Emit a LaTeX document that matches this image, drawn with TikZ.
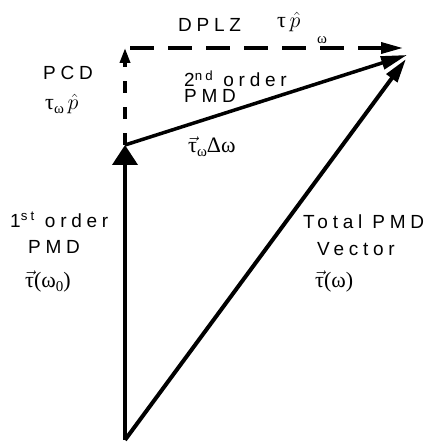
\RequirePackage{fix-cm}
\documentclass[tikz,border=0pt]{standalone}
\usepackage{fontspec}
\setmainfont{Liberation Sans}[LetterSpace=25]
\newfontfamily\grk{Liberation Serif}
\usetikzlibrary{arrows.meta}
\newcommand{\sub}[1]{\raisebox{-4pt}{\fontsize{15}{16}\selectfont\grk #1}}
\begin{document}
\begin{tikzpicture}[x=1pt,y=-1pt,
  lbl/.style={inner sep=0pt,anchor=base west,text height=13pt,text depth=0pt,font=\fontsize{19}{21}\selectfont},
  gr/.style={inner sep=0pt,anchor=base west,font=\fontsize{22}{24}\selectfont\grk},
  vec/.style={line width=4pt},
  dsh/.style={line width=3.5pt,dash pattern=on 24pt off 14pt}]
\useasboundingbox (0,0) rectangle (425,446);
\coordinate (O) at (125,440);
\coordinate (A) at (125,145);
\coordinate (P) at (125,48);
\coordinate (H) at (130,48);
\coordinate (D) at (403,48);
\coordinate (T2) at (407,55);
\coordinate (T) at (406,59);
% vectors
\draw[vec,-{Triangle[width=25pt,length=20pt]}] (O) -- (A);
\draw[line width=3.5pt,dash pattern=on 12pt off 14pt,-{Triangle[width=10pt,length=15pt]}] (A) -- (P);
\draw[dsh,-{Triangle[width=11pt,length=22pt]}] (H) -- (D);
\draw[line width=3.5pt,-{Triangle[width=13pt,length=26pt]}] (A) -- (T2);
\draw[vec,-{Triangle[width=13pt,length=24pt]}] (O) -- (T);
% labels
\node[lbl] (dplz) at (178,32) {DPLZ};
\node[gr] (tp) at (277,28) {τ\,$\hat{p}$};
\node[gr,font=\fontsize{15}{16}\selectfont\grk] (w) at (317,44) {ω};
\node[lbl] (pcd) at (43,80) {PCD};
\node[gr] (twp) at (45,110) {τ\sub{ω}\,$\hat{p}$};
\node[lbl] (so) at (184,87) {2\textsuperscript{nd} order};
\node[lbl] (spmd) at (184,103) {PMD};
\node[gr] (twd) at (188,153) {$\vec{\hbox{τ}}$\sub{ω}Δω};
\node[lbl] (fo) at (10,227) {1\textsuperscript{st} order};
\node[lbl] (fpmd) at (28,253) {PMD};
\node[gr] (tw0) at (25,287) {$\vec{\hbox{τ}}$(ω\sub{0})};
\node[lbl] (tot) at (303,228) {Total PMD};
\node[lbl] (vct) at (317,255) {Vector};
\node[gr] (tw) at (315,287) {$\vec{\hbox{τ}}$(ω)};
\end{tikzpicture}
\end{document}
